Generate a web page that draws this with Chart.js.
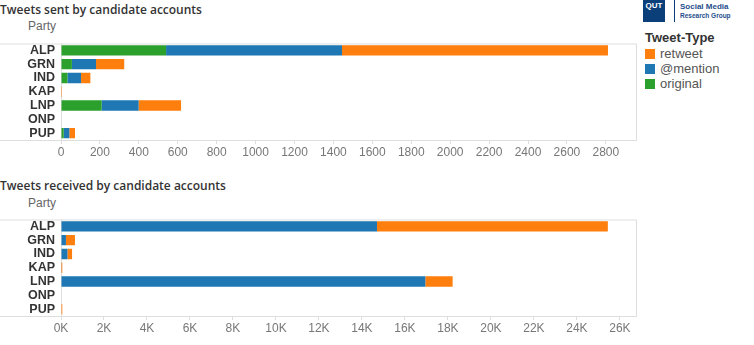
<!DOCTYPE html>
<html>
<head>
<meta charset="utf-8">
<script src="https://cdn.jsdelivr.net/npm/chart.js@4/dist/chart.umd.min.js"></script>
<style>
  body { margin: 0; background: #fff; font-family: Arial, "Liberation Sans", sans-serif; }
  #wrap { position: relative; width: 754px; height: 345px; overflow: hidden; }
  .title { position: absolute; left: 0; font-family: "Open Sans", sans-serif; font-weight: 600; font-size: 12px; color: #333; }
  .party { position: absolute; left: 28px; font-size: 12px; color: #666; }
  .cv { position: absolute; left: 0; }
  #legend { position: absolute; left: 645px; top: 30px; font-size: 13px; color: #555; }
  #legend .hd { font-weight: bold; color: #333; margin-bottom: 1px; }
  #legend .it { height: 15px; line-height: 15px; }
  #legend .sw { display: inline-block; width: 10px; height: 10px; vertical-align: -1px; margin-right: 5px; }
  #logo { position: absolute; left: 643px; top: 0; }
  #logo .sq { position: absolute; left: 0; top: 0; width: 22px; height: 22px; background: #0b3f7a; color: #fff; font: bold 8px Arial; text-align: center; line-height: 12px; }
  #logo .ln { position: absolute; left: 31px; top: 0; width: 1px; height: 22px; background: #0b3f7a; }
  #logo .t1 { position: absolute; left: 37px; top: 2px; font: bold 8px Arial; color: #1f4e8c; white-space: nowrap; }
  #logo .t2 { position: absolute; left: 37px; top: 12px; font: bold 6.5px Arial; color: #1f4e8c; white-space: nowrap; }
</style>
</head>
<body>
<div id="wrap">
  <div class="title" style="top:1px">Tweets sent by candidate accounts</div>
  <div class="party" style="top:19px">Party</div>
  <canvas id="sent" class="cv" style="top:30px" width="640" height="135"></canvas>

  <div class="title" style="top:177px">Tweets received by candidate accounts</div>
  <div class="party" style="top:196px">Party</div>
  <canvas id="recv" class="cv" style="top:206px" width="640" height="135"></canvas>

  <div id="logo">
    <div class="sq">QUT</div>
    <div class="ln"></div>
    <div class="t1">Social Media</div>
    <div class="t2">Research Group</div>
  </div>
  <div id="legend">
    <div class="hd">Tweet-Type</div>
    <div class="it"><span class="sw" style="background:#ff7f0e"></span>retweet</div>
    <div class="it"><span class="sw" style="background:#1f77b4"></span>@mention</div>
    <div class="it"><span class="sw" style="background:#2ca02c"></span>original</div>
  </div>
</div>

<script>
// data
const parties = ["ALP", "GRN", "IND", "KAP", "LNP", "ONP", "PUP"];

const sentOriginal = [540, 56, 33, 0, 209, 0, 14];
const sentMention  = [904, 124, 70, 0, 190, 0, 29];
const sentRetweet  = [1367, 145, 48, 5, 218, 0, 29];

const recvMention  = [14700, 230, 300, 20, 16950, 0, 0];
const recvRetweet  = [10740, 420, 215, 40, 1270, 0, 60];

// axis ticks
const sentTicks = [0, 200, 400, 600, 800, 1000, 1200, 1400, 1600, 1800, 2000, 2200, 2400, 2600, 2800];
const recvTicks = [0, 2000, 4000, 6000, 8000, 10000, 12000, 14000, 16000, 18000, 20000, 22000, 24000, 26000];

const colOriginal = "#2ca02c";
const colMention = "#1f77b4";
const colRetweet = "#ff7f0e";

// frame around the plot, with the row lines running out to the left edge
const framePlugin = {
    id: "frame",
    afterDraw(chart) {
        const a = chart.chartArea;
        const ctx = chart.ctx;
        ctx.save();
        ctx.strokeStyle = "#dedede";
        ctx.lineWidth = 1;
        ctx.beginPath();
        ctx.moveTo(0, a.top + 0.5); ctx.lineTo(a.right + 0.5, a.top + 0.5);
        ctx.lineTo(a.right + 0.5, a.bottom + 0.5);
        ctx.moveTo(0, a.bottom + 0.5); ctx.lineTo(a.left, a.bottom + 0.5);
        ctx.stroke();
        ctx.restore();
    }
};

function makeChart(id, datasets, max, tickValues, fmt) {
    return new Chart(document.getElementById(id), {
        type: "bar",
        data: { labels: parties, datasets: datasets },
        options: {
            indexAxis: "y",
            responsive: false,
            animation: false,
            layout: { padding: { top: 5, right: 4, left: 0, bottom: 0 } },
            plugins: { legend: { display: false }, tooltip: { enabled: false } },
            datasets: { bar: { barPercentage: 0.75, categoryPercentage: 1 } },
            scales: {
                x: {
                    stacked: true,
                    min: 0,
                    max: max,
                    grid: { drawOnChartArea: false, drawTicks: true, tickLength: 4, color: "#dedede" },
                    border: { display: true, color: "#dedede" },
                    ticks: {
                        padding: 1,
                        color: "#777",
                        font: { family: "Arial", size: 12 },
                        maxRotation: 0,
                        autoSkip: false,
                        callback: fmt
                    },
                    afterBuildTicks(scale) {
                        scale.ticks = tickValues.map(v => ({ value: v }));
                    },
                    afterFit(scale) { scale.height = 25; }
                },
                y: {
                    stacked: true,
                    grid: { display: false, drawTicks: false, tickLength: 0 },
                    border: { display: true, color: "#dedede" },
                    ticks: {
                        color: "#333",
                        padding: 6,
                        autoSkip: false,
                        font: { family: "Arial", size: 12.5, weight: "bold" }
                    },
                    afterFit(scale) { scale.width = 61; }
                }
            }
        },
        plugins: [framePlugin]
    });
}

makeChart("sent", [
    { label: "original", data: sentOriginal, backgroundColor: colOriginal },
    { label: "@mention", data: sentMention, backgroundColor: colMention },
    { label: "retweet", data: sentRetweet, backgroundColor: colRetweet }
], 2955, sentTicks, v => v);

makeChart("recv", [
    { label: "@mention", data: recvMention, backgroundColor: colMention },
    { label: "retweet", data: recvRetweet, backgroundColor: colRetweet }
], 26750, recvTicks, v => (v / 1000) + "K");
</script>
</body>
</html>
